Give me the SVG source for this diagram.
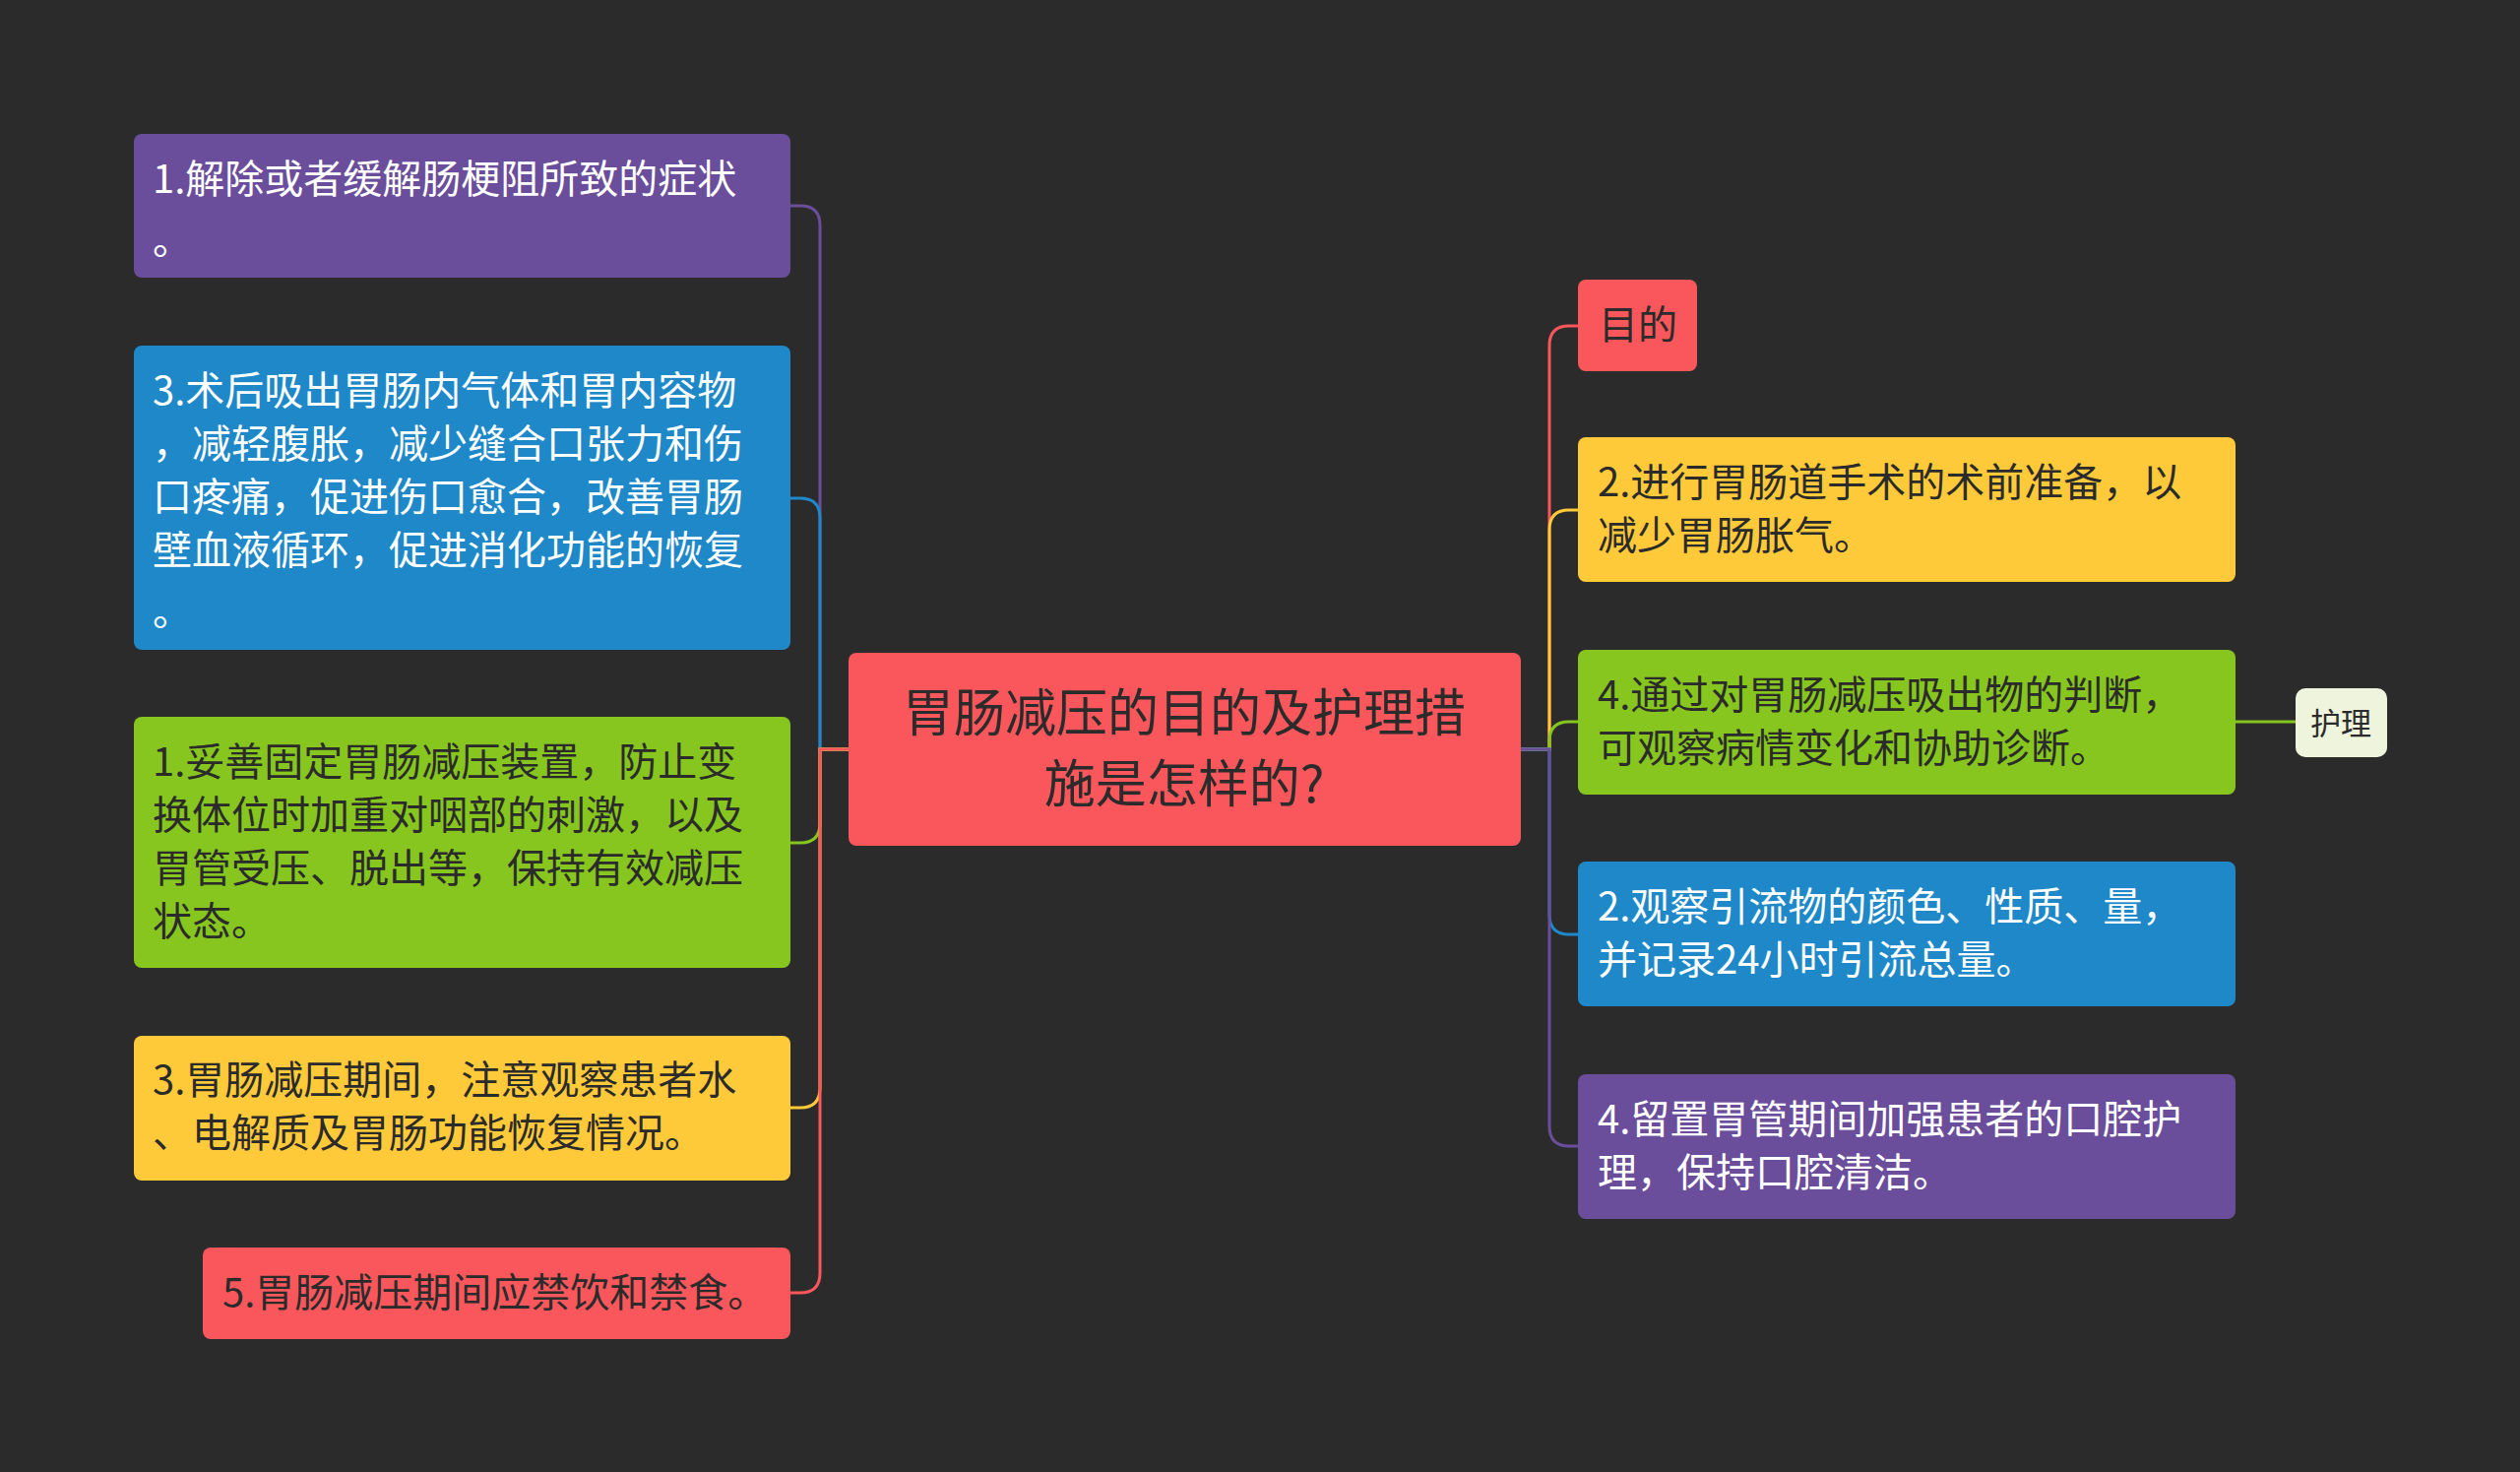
<svg xmlns="http://www.w3.org/2000/svg" width="2560" height="1495" viewBox="0 0 2560 1495">
<style>
text{font-family:"Noto Sans CJK SC","Noto Sans",sans-serif;font-size:40px}
.w{fill:#ffffff}.d{fill:#2b2b2b}
.c{fill:none;stroke-width:3}
</style>
<rect width="2560" height="1495" fill="#2b2b2b"/>
<g id="connectors">
<path class="c" stroke="#6B4E9B" d="M862 761H833V229Q833 209 813 209H803"/>
<path class="c" stroke="#1E88C8" d="M862 761H833V526Q833 506 813 506H803"/>
<path class="c" stroke="#86C61F" d="M862 761H833V836Q833 856 813 856H803"/>
<path class="c" stroke="#FFCA3A" d="M862 761H833V1105Q833 1125 813 1125H803"/>
<path class="c" stroke="#F9575B" d="M862 761H833V1293Q833 1313 813 1313H803"/>
<path class="c" stroke="#F9575B" d="M1545 761H1574V351Q1574 331 1594 331H1603"/>
<path class="c" stroke="#FFCA3A" d="M1545 761H1574V538Q1574 518 1594 518H1603"/>
<path class="c" stroke="#86C61F" d="M1545 761H1574V753Q1574 733 1594 733H1603"/>
<path class="c" stroke="#1E88C8" d="M1545 761H1574V929Q1574 949 1594 949H1603"/>
<path class="c" stroke="#6B4E9B" d="M1545 761H1574V1144Q1574 1164 1594 1164H1603"/>
<path class="c" stroke="#86C61F" d="M2271 733H2332"/>
</g>
<g id="center"><rect x="862" y="663" width="683" height="196" rx="8" fill="#F9575B"/>
<text x="1203" y="743" text-anchor="middle" class="d" style="font-size:52px">胃肠减压的目的及护理措</text>
<text x="1203" y="815" text-anchor="middle" class="d" style="font-size:52px">施是怎样的?</text></g>
<g id="l1"><rect x="136" y="136" width="667" height="146" rx="8" fill="#6B4E9B"/>
<text class="w" x="155" y="196">1.解除或者缓解肠梗阻所致的症状</text><text class="w" x="155" y="258">。</text></g>
<g id="l2"><rect x="136" y="351" width="667" height="309" rx="8" fill="#1E88C8"/>
<text class="w" x="155" y="411">3.术后吸出胃肠内气体和胃内容物</text>
<text class="w" x="155" y="465">，减轻腹胀，减少缝合口张力和伤</text>
<text class="w" x="155" y="519">口疼痛，促进伤口愈合，改善胃肠</text>
<text class="w" x="155" y="573">壁血液循环，促进消化功能的恢复</text>
<text class="w" x="155" y="635">。</text></g>
<g id="l3"><rect x="136" y="728" width="667" height="255" rx="8" fill="#86C61F"/>
<text class="d" x="155" y="788">1.妥善固定胃肠减压装置，防止变</text>
<text class="d" x="155" y="842">换体位时加重对咽部的刺激，以及</text>
<text class="d" x="155" y="896">胃管受压、脱出等，保持有效减压</text>
<text class="d" x="155" y="950">状态。</text></g>
<g id="l4"><rect x="136" y="1052" width="667" height="147" rx="8" fill="#FFCA3A"/>
<text class="d" x="155" y="1111">3.胃肠减压期间，注意观察患者水</text>
<text class="d" x="155" y="1165">、电解质及胃肠功能恢复情况。</text></g>
<g id="l5"><rect x="206" y="1267" width="597" height="93" rx="8" fill="#F9575B"/>
<text class="d" x="226" y="1327">5.胃肠减压期间应禁饮和禁食。</text></g>
<g id="r0"><rect x="1603" y="284" width="121" height="93" rx="8" fill="#F9575B"/>
<text class="d" x="1624" y="344">目的</text></g>
<g id="r1"><rect x="1603" y="444" width="668" height="147" rx="8" fill="#FFCA3A"/>
<text class="d" x="1623" y="504">2.进行胃肠道手术的术前准备，以</text>
<text class="d" x="1623" y="558">减少胃肠胀气。</text></g>
<g id="r2"><rect x="1603" y="660" width="668" height="147" rx="8" fill="#86C61F"/>
<text class="d" x="1623" y="720">4.通过对胃肠减压吸出物的判断，</text>
<text class="d" x="1623" y="774">可观察病情变化和协助诊断。</text></g>
<g id="r3"><rect x="1603" y="875" width="668" height="147" rx="8" fill="#1E88C8"/>
<text class="w" x="1623" y="935">2.观察引流物的颜色、性质、量，</text>
<text class="w" x="1623" y="989">并记录24小时引流总量。</text></g>
<g id="r4"><rect x="1603" y="1091" width="668" height="147" rx="8" fill="#6B4E9B"/>
<text class="w" x="1623" y="1151">4.留置胃管期间加强患者的口腔护</text>
<text class="w" x="1623" y="1205">理，保持口腔清洁。</text></g>
<g id="r5"><rect x="2332" y="699" width="93" height="70" rx="10" fill="#EEF5DC"/>
<text class="d" x="2378" y="746" text-anchor="middle" style="font-size:31px">护理</text></g>
</svg>
